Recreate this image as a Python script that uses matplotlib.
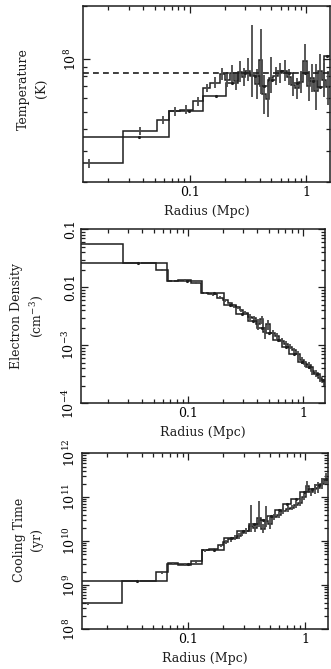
import numpy as np
import matplotlib
matplotlib.use("Agg")
import matplotlib.pyplot as plt
from matplotlib.ticker import FixedLocator, FixedFormatter, LogLocator, NullFormatter

plt.rcParams['font.family'] = ['DejaVu Serif']
plt.rcParams['mathtext.fontset'] = 'dejavuserif'

# ---------------- data ----------------
# fine-binned deprojection (with error bars), bin edges in Mpc
B_edges = [0.007, 0.027, 0.053, 0.067, 0.082, 0.106, 0.13, 0.15, 0.18, 0.20, 0.22,
           0.24, 0.26, 0.28, 0.30, 0.33, 0.36, 0.39, 0.42, 0.45, 0.48, 0.52, 0.57,
           0.62, 0.68, 0.74, 0.80, 0.87, 0.94, 1.01, 1.08, 1.16, 1.25, 1.35, 1.46, 1.58]
# temperature (1e7 K)
B_T = [2.55, 3.92, 4.52, 5.04, 5.15, 5.75, 6.85, 7.35, 8.2, 7.6, 8.3, 7.5, 8.4, 7.9,
       8.6, 8.1, 7.2, 9.9, 6.3, 5.9, 7.8, 8.0, 8.3, 8.6, 7.9, 7.1, 6.8, 7.4, 9.8, 7.0,
       7.8, 6.6, 8.5, 7.6, 6.9]
B_T_lo = [0.15, 0.2, 0.25, 0.3, 0.3, 0.35, 0.4, 0.5, 0.6, 0.7, 0.9, 0.8, 1.0, 0.9, 1.1,
          2.0, 1.3, 3.6, 1.4, 1.2, 1.4, 0.9, 1.0, 1.1, 0.8, 0.9, 0.9, 1.0, 1.4, 1.2,
          1.3, 1.5, 1.6, 1.5, 1.4]
B_T_hi = [0.15, 0.2, 0.25, 0.3, 0.3, 0.35, 0.4, 0.5, 0.7, 0.8, 1.0, 0.9, 1.3, 1.0, 1.5,
          7.5, 1.6, 5.0, 1.8, 1.5, 2.5, 1.0, 1.2, 1.3, 0.9, 1.0, 1.0, 1.2, 2.4, 1.5,
          1.6, 2.8, 2.2, 1.9, 1.7]
# electron density (1e-3 cm^-3)
B_n = [55, 26, 20, 13, 13.5, 12, 8.0, 7.6, 6.6, 6.0, 5.3, 4.8, 4.5, 4.0, 3.6, 3.1, 2.9,
       2.3, 2.8, 1.7, 2.3, 1.6, 1.45, 1.2, 1.05, 0.95, 0.82, 0.72, 0.55, 0.48, 0.45,
       0.36, 0.33, 0.27, 0.23]
B_n_err = [1.5, 1.0, 0.8, 0.6, 0.6, 0.5, 0.4, 0.4, 0.4, 0.4, 0.35, 0.35, 0.35, 0.3, 0.3,
           0.35, 0.35, 0.5, 0.45, 0.4, 0.45, 0.2, 0.2, 0.15, 0.12, 0.1, 0.08, 0.07, 0.07,
           0.06, 0.06, 0.05, 0.05, 0.04, 0.035]
# cooling time (1e9 yr)
B_tc = [0.39, 1.23, 1.98, 3.1, 2.9, 3.5, 6.2, 6.5, 8.0, 9.5, 11, 12, 13, 15, 17, 22, 20,
        33, 19, 29, 25, 35, 40, 48, 55, 58, 68, 75, 100, 180, 130, 150, 160, 200, 250]
B_tc_lo = [0.03, 0.08, 0.15, 0.25, 0.25, 0.3, 0.5, 0.6, 0.8, 1.0, 1.2, 1.5, 1.6, 2, 2.5,
           6, 4, 12, 4, 8, 6, 5, 6, 7, 8, 8, 10, 12, 15, 30, 25, 30, 35, 45, 55]
B_tc_hi = [0.03, 0.08, 0.15, 0.25, 0.25, 0.3, 0.5, 0.6, 0.8, 1.0, 1.4, 1.7, 2, 2.5, 3,
           45, 6, 50, 6, 35, 10, 6, 7, 8, 9, 10, 12, 15, 20, 50, 35, 50, 60, 70, 110]

# coarse-binned deprojection
A_edges = [0.007, 0.066, 0.131, 0.2035, 0.26, 0.33, 0.40, 0.47, 0.55, 0.65, 0.76,
           0.90, 1.05, 1.22, 1.40, 1.60]
A_T = [3.62, 5.04, 6.2, 7.3, 8.3, 8.0, 7.0, 7.6, 8.5, 8.3, 7.3, 8.3, 7.5, 6.9, 10.4]
A_n = [26, 13, 7.9, 5.0, 3.5, 2.6, 2.0, 1.6, 1.25, 0.95, 0.72, 0.52, 0.42, 0.32, 0.25]
A_tc = [1.23, 3.0, 6.2, 11.5, 17, 24, 30, 38, 52, 70, 90, 130, 150, 190, 260]

T_mean = 8.3  # dashed line, 1e7 K

# ---------------- plotting ----------------
INK = '#1e1e1e'
ERR = '#4a4a4a'

fig = plt.figure(figsize=(3.31, 6.69), dpi=100)

def centers_geo(e):
    e = np.asarray(e)
    return np.sqrt(e[:-1] * e[1:])

def centers_ari(e):
    e = np.asarray(e)
    return 0.5 * (e[:-1] + e[1:])

def style_axis(ax, xlim, ylim, ymajor, ylabels):
    ax.set_xscale('log')
    ax.set_yscale('log')
    ax.set_xlim(*xlim)
    ax.set_ylim(*ylim)
    ax.xaxis.set_major_locator(FixedLocator([0.01, 0.1, 1.0]))
    ax.xaxis.set_major_formatter(FixedFormatter(['0.01', '0.1', '1']))
    ax.xaxis.set_minor_locator(LogLocator(base=10, subs=np.arange(2, 10)))
    ax.xaxis.set_minor_formatter(NullFormatter())
    ax.yaxis.set_major_locator(FixedLocator(ymajor))
    ax.yaxis.set_major_formatter(FixedFormatter(ylabels))
    ax.yaxis.set_minor_locator(LogLocator(base=10, subs=np.arange(2, 10)))
    ax.yaxis.set_minor_formatter(NullFormatter())
    ax.tick_params(which='both', direction='in', top=True, right=True, color=INK,
                   width=0.9)
    ax.tick_params(which='major', length=5, labelsize=9, pad=3)
    ax.tick_params(which='minor', length=2.6)
    for lab in ax.get_yticklabels():
        lab.set_rotation(90)
        lab.set_va('center')
    for s in ax.spines.values():
        s.set_linewidth(1.1)
        s.set_color(INK)
    ax.set_xlabel('Radius (Mpc)', fontsize=9, labelpad=4, color=INK)

def draw(ax, Bv, Blo, Bhi, Av, scale):
    Bv = np.asarray(Bv) * scale
    ax.stairs(Bv, B_edges, baseline=None, color=INK, lw=1.1)
    ax.stairs(np.asarray(Av) * scale, A_edges, baseline=None, color=INK, lw=1.1)
    ax.errorbar(centers_geo(B_edges), Bv,
                yerr=[np.asarray(Blo) * scale, np.asarray(Bhi) * scale],
                fmt='none', ecolor=ERR, elinewidth=1.3, capsize=0)
    ax.plot(centers_ari(A_edges), np.asarray(Av) * scale, ls='none', marker='.',
            ms=2.5, color=INK)

# Panel 1: temperature
ax1 = fig.add_axes([83/331, 1-182/669, 247/331, 176/669])
draw(ax1, B_T, B_T_lo, B_T_hi, A_T, 1e7)
ax1.axhline(T_mean * 1e7, color=INK, lw=1.2, ls=(0, (3.5, 2.5)))
style_axis(ax1, (0.0122, 1.59), (2e7, 2e8), [1e8], [r'$10^8$'])
ax1.set_ylabel('Temperature\n(K)', fontsize=9, color=INK, linespacing=1.5)
ax1.yaxis.set_label_coords(-0.142, 0.53)

# Panel 2: electron density
ax2 = fig.add_axes([81/331, 1-403.3/669, 244/331, 174/669])
draw(ax2, B_n, B_n_err, B_n_err, A_n, 1e-3)
style_axis(ax2, (0.0117, 1.55), (1e-4, 0.1), [1e-4, 1e-3, 1e-2, 1e-1],
           [r'$10^{-4}$', r'$10^{-3}$', '0.01', '0.1'])
ax2.set_ylabel('Electron Density\n(cm$^{-3}$)', fontsize=9, color=INK, linespacing=1.4)
ax2.yaxis.set_label_coords(-0.148, 0.5)

# Panel 3: cooling time
ax3 = fig.add_axes([82.3/331, 1-629/669, 245.7/331, 175.7/669])
draw(ax3, B_tc, B_tc_lo, B_tc_hi, A_tc, 1e9)
style_axis(ax3, (0.01236, 1.57), (1e8, 1e12), [1e8, 1e9, 1e10, 1e11, 1e12],
           [r'$10^8$', r'$10^9$', r'$10^{10}$', r'$10^{11}$', r'$10^{12}$'])
ax3.set_ylabel('Cooling Time\n(yr)', fontsize=9, color=INK, linespacing=1.4)
ax3.yaxis.set_label_coords(-0.16, 0.51)

fig.savefig('out.png', dpi=100)
